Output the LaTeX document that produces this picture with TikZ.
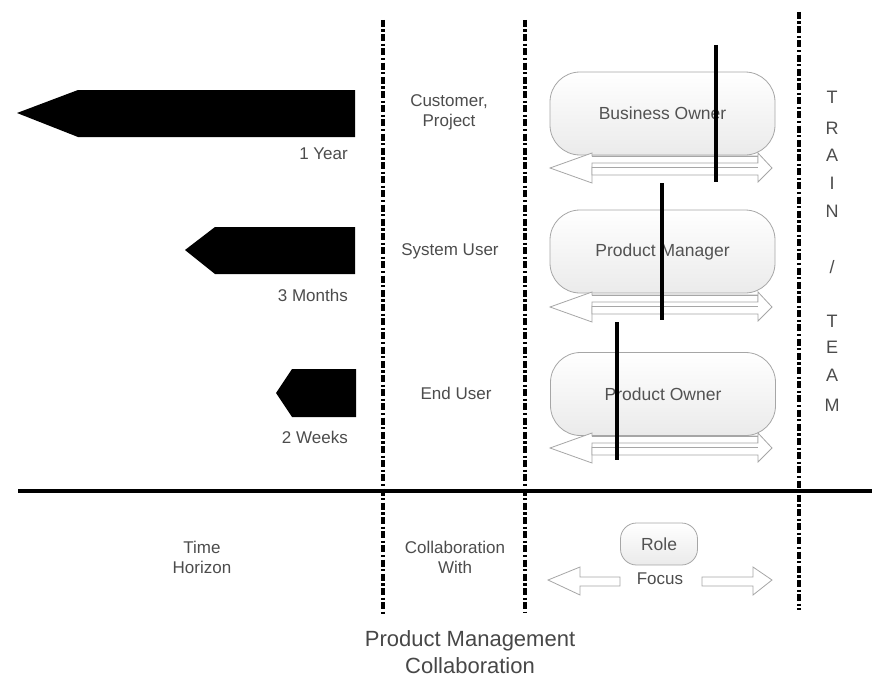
\documentclass[tikz,border=0pt]{standalone}
\usepackage{fontspec}
\setmainfont{Liberation Sans}
\begin{document}
\begin{tikzpicture}[x=1pt,y=-1pt,
  txt/.style={text=black!70,font=\fontsize{17}{20}\selectfont,align=center,inner sep=0pt},
  pill/.style={draw=black!35,line width=0.8pt,rounded corners=30pt,top color=white,bottom color=black!8,text=black!68,font=\fontsize{17.5}{20}\selectfont},
  divider/.style={line width=3.4pt,dash pattern=on 7pt off 2.5pt on 2.2pt off 2.5pt},
  bar/.style={fill=black},
  hollow/.style={draw=black!35,line width=0.8pt,fill=white},
  mark line/.style={line width=3.2pt}]
\useasboundingbox (0,0) rectangle (872,685);
% dividers
\draw[divider] (383,20) coordinate (d1a) -- (383,615) coordinate (d1b);
\draw[divider] (525,20) coordinate (d2a) -- (525,613) coordinate (d2b);
\draw[divider] (799,12) coordinate (d3a) -- (799,610) coordinate (d3b);
\draw[line width=4.5pt] (18,491) coordinate (h1) -- (872,491) coordinate (h2);
% time horizon bars
\fill[bar] (17,113) -- (78,90) -- (355,90) -- (355,137) -- (78,137) -- cycle;
\fill[bar] (185,250) -- (215,227) -- (355,227) -- (355,274) -- (215,274) -- cycle;
\fill[bar] (276,393) -- (292,369) -- (356,369) -- (356,417) -- (292,417) -- cycle;
\node[txt,anchor=east] (y1) at (348,154) {1 Year};
\node[txt,anchor=east] (m3) at (348,295) {3 Months};
\node[txt,anchor=east] (w2) at (348,437) {2 Weeks};
% collaboration
\node[txt] (cust) at (449,112) {Customer,\\Project};
\node[txt] (sys) at (450,251) {System User};
\node[txt] (end) at (456,393) {End User};
% role pills
\node[pill,minimum width=225pt,minimum height=83pt] (bo) at (662.5,113.5) {Business Owner};
\node[pill,minimum width=225pt,minimum height=83pt] (pm) at (662.5,251.5) {Product Manager};
\node[pill,minimum width=225pt,minimum height=83pt] (po) at (663,394) {Product Owner};
% double arrows
\foreach \dy/\nm in {0/a,139/b,280/c}{
  \begin{scope}[yshift=-\dy pt]
  \draw[hollow] (550,168) -- (592,153) -- (592,156) -- (758,156) -- (758,167) -- (592,167) -- (592,183) -- cycle;
  \draw[hollow] (772,168) -- (758,153) -- (758,163) -- (592,163) -- (592,175) -- (758,175) -- (758,182) -- cycle;
  \draw[black!35,line width=0.8pt] (592,156) -- (758,156) (592,167) -- (758,167);
  \end{scope}
}
% focus lines
\draw[mark line] (716,45) coordinate (l1a) -- (716,182) coordinate (l1b);
\draw[mark line] (662,183) coordinate (l2a) -- (662,320) coordinate (l2b);
\draw[mark line] (617,322) coordinate (l3a) -- (617,460) coordinate (l3b);
% train / team
\foreach \ch/\yy [count=\i] in {T/97,R/128,A/155,I/183,N/211,{/}/267,T/321,E/347,A/375,M/405}{
  \node[txt,font=\fontsize{18}{20}\selectfont] (tt\i) at (832,\yy) {\ch};
}
% bottom legend
\node[txt] (th) at (202,557) {Time\\Horizon};
\node[txt] (cw) at (455,557) {Collaboration\\With};
\node[pill,rounded corners=16pt,minimum width=77pt,minimum height=42pt] (role) at (659,544) {Role};
\node[txt] (focus) at (660,579) {Focus};
\draw[hollow] (548,580) -- (580,567) -- (580,577) -- (620,577) -- (620,586) -- (580,586) -- (580,595) -- cycle;
\draw[hollow] (772,580) -- (753,567) -- (753,577) -- (702,577) -- (702,586) -- (753,586) -- (753,595) -- cycle;
% title
\node[txt,text=black!72,font=\fontsize{22}{27}\selectfont] (title) at (470,652) {Product Management\\Collaboration};
\end{tikzpicture}
\end{document}
